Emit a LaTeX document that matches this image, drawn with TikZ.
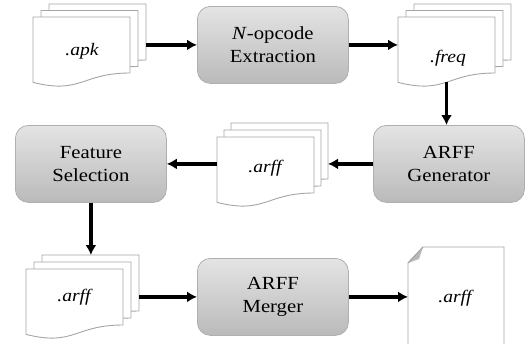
\documentclass[tikz,border=0pt]{standalone}
\usepackage{fontspec}
\setmainfont{Liberation Serif}[FakeStretch=1.12]
\usetikzlibrary{arrows.meta,calc}
\definecolor{pageline}{RGB}{165,165,165}
\definecolor{boxline}{RGB}{175,175,175}
\definecolor{boxtop}{RGB}{228,228,228}
\definecolor{boxbot}{RGB}{186,186,186}
\definecolor{foldgray}{RGB}{185,185,185}
\newcommand\boxfont{\fontsize{18.5}{23.5}\selectfont}
\newcommand\labfont{\fontsize{17.5}{20}\selectfont\itshape}
\tikzset{
  page/.style={fill=white, draw=pageline, line width=0.9pt},
  procbox/.style={draw=boxline, line width=0.8pt, rounded corners=13pt,
    top color=boxtop, bottom color=boxbot, minimum width=151pt,
    minimum height=77pt, inner sep=0pt, align=center, font=\boxfont,
    anchor=north west},
  flow/.style={line width=3.6pt, -{Latex[length=10pt,width=11pt]}},
  region/.style={inner sep=0pt, outer sep=0pt, anchor=north west},
  doclabel/.style={font=\labfont, inner sep=0pt}
}
% one page of the document shape, top-left corner #1,#2
\newcommand\pagepath[2]{%
  \pgfmathsetmacro\pxr{#1+97}\pgfmathsetmacro\pxm{#1+48.5}%
  \pgfmathsetmacro\pyr{#2+56}\pgfmathsetmacro\pyc{#2+77.5}\pgfmathsetmacro\pyl{#2+65.4}%
  \filldraw[page] (#1,#2) -- (\pxr,#2) -- (\pxr,\pyr) .. controls (\pxm,\pyr) and (\pxm,\pyc) .. (#1,\pyl) -- cycle;}
% stack of three pages: name, x, y (front page top-left), dx, dy
\newcommand\docstack[5]{%
  \pgfmathsetmacro\sxa{#2+2*#4}\pgfmathsetmacro\sya{#3-2*#5}%
  \pgfmathsetmacro\sxb{#2+#4}\pgfmathsetmacro\syb{#3-#5}%
  \pgfmathsetmacro\swid{97+2*#4}\pgfmathsetmacro\shgt{65+2*#5}%
  \edef\stA{{\sxa}{\sya}}\edef\stB{{\sxb}{\syb}}%
  \expandafter\pagepath\stA
  \expandafter\pagepath\stB
  \pagepath{#2}{#3}%
  \node[region, minimum width=97pt, minimum height=65pt] (#1) at (#2,#3) {};
  \node[region, minimum width=\swid pt, minimum height=\shgt pt] (#1s) at (#2,\sya) {};
}
\begin{document}
\begin{tikzpicture}[x=1pt,y=-1pt]
\useasboundingbox (0,0) rectangle (530,343);

% document stacks
\docstack{apk}{33}{17}{8}{6.5}
\docstack{freq}{398}{17}{8}{6.5}
\docstack{arffm}{217}{137}{7}{7}
\docstack{arffb}{26}{269}{8}{7}
\node[doclabel] at (82,51) {.apk};
\node[doclabel] at (448,58) {.freq};
\node[doclabel] at (265,168) {.arff};
\node[doclabel] at (74,297) {.arff};

% final single document with folded corner
\filldraw[page] (408,350) -- (408,263) -- (423,247) -- (504,247) -- (504,350);
\fill[foldgray] (423,247) .. controls (421,253) .. (419,259) -- (408,263) -- cycle;
\draw[pageline, line width=0.9pt] (408,263) -- (423,247);
\node[region, minimum width=96pt, minimum height=100pt] (final) at (408,247) {};
\node[doclabel] at (455,298) {.arff};

% process boxes
\node[procbox] (extract) at (197,6) {\textit{N}-opcode\\Extraction};
\node[procbox] (gen) at (373,125) {ARFF\\Generator};
\node[procbox] (fs) at (15,125) {Feature\\Selection};
\node[procbox] (merge) at (197,258) {ARFF\\Merger};

% connectors
\draw[flow] (extract.west -| apks.east) -- (extract.west);
\draw[flow] (extract.east) -- (extract.east -| freq.west);
\draw[flow] (freq.south) -- (freq.south |- gen.north);
\draw[flow] (gen.west) -- (gen.west -| arffms.east);
\draw[flow] (fs.east -| arffm.west) -- (fs.east);
\draw[flow] (fs.south) -- (fs.south |- arffbs.north);
\draw[flow] (merge.west -| arffbs.east) -- (merge.west);
\draw[flow] (merge.east) -- (merge.east -| final.west);
\end{tikzpicture}
\end{document}
